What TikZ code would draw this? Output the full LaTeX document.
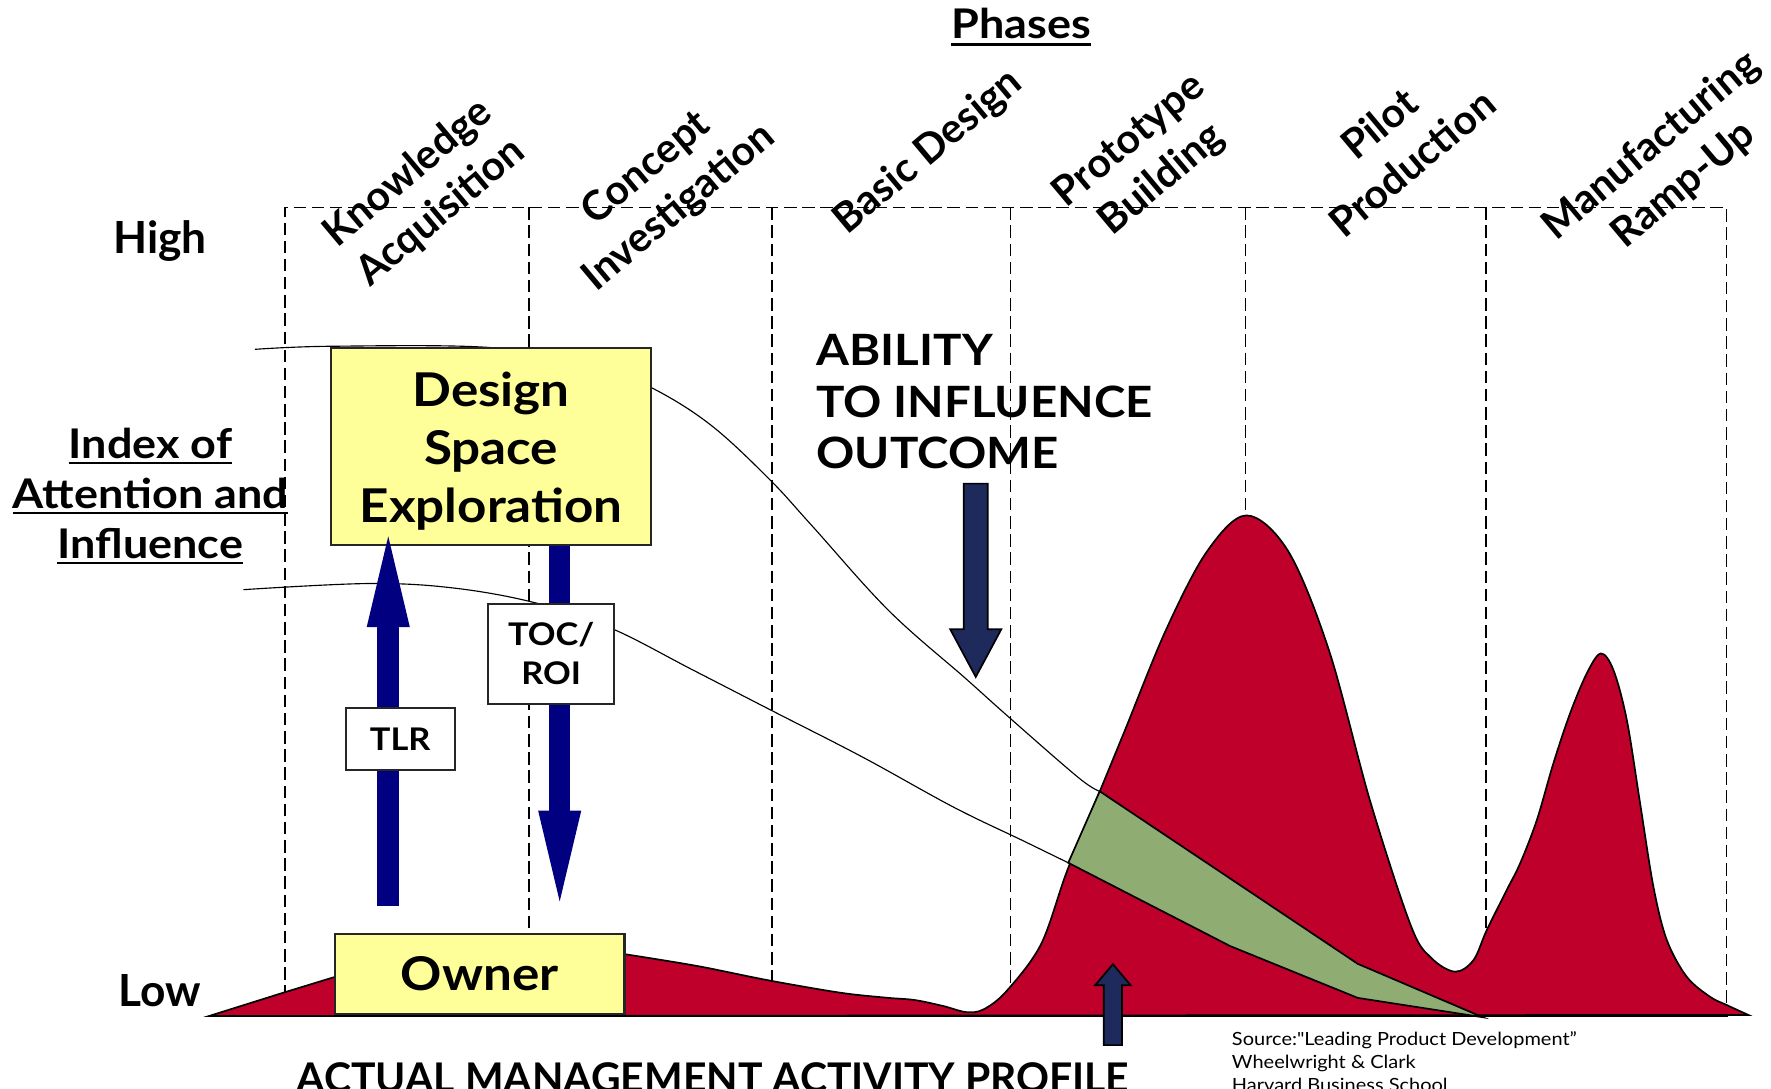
\documentclass[tikz,border=0pt]{standalone}
\usepackage{fontspec}
\setmainfont{Lato}
\newfontfamily\widesans{Lato}[FakeStretch=1.1]
\usetikzlibrary{arrows.meta}

\definecolor{profilered}{RGB}{190,0,42}
\definecolor{overlapgreen}{RGB}{143,172,114}
\definecolor{boxyellow}{RGB}{255,255,153}
\definecolor{tlrnavy}{RGB}{0,0,128}
\definecolor{slate}{RGB}{31,42,92}

\begin{document}
\begin{tikzpicture}[x=1pt, y=-1pt,
    phaseline/.style={black, line width=1.3pt, dash pattern=on 11pt off 5pt},
    activity/.style={fill=profilered, draw=black, line width=1.5pt},
    overlap/.style={fill=overlapgreen, draw=black, line width=1.5pt},
    influence/.style={black, line width=1pt},
    bigbox/.style={draw=black!85, line width=2pt, fill=boxyellow, inner sep=0pt},
    boxtext/.style={align=center, inner sep=0pt, font=\widesans\bfseries\fontsize{41}{51.4}\selectfont},
    tagbox/.style={draw=black!85, line width=1.8pt, fill=white, align=center, inner sep=0pt,
        font=\widesans\bfseries\fontsize{27.5}{34.3}\selectfont},
    navyarrow/.style={tlrnavy, line width=19pt,
        -{Triangle[length=80pt, width=38pt, line width=0pt]}},
    slatearrow/.style={fill=slate, draw=black, line width=1.5pt},
    phase/.style={rotate=40, align=center, font=\bfseries\fontsize{36}{45}\selectfont},
    heading/.style={inner sep=0pt, anchor=base, font=\widesans\bfseries\fontsize{36}{44}\selectfont},
    uline/.style={line width=2.2pt}
]
\useasboundingbox (0,0) rectangle (1560,959);

% phase columns
\draw[phaseline] (251,895) -- (251,182.6) -- (1521,182.6) -- (1521,895);
\foreach \x in {466,680,890,1097,1309}
    \draw[phaseline] (\x,182.6) -- (\x,895);

% actual management activity profile
\filldraw[activity] (184,895) -- (249.6,874.4) -- (295,860.5) -- (550.4,840.5)
    -- plot[smooth, tension=0.55] coordinates {(550.4,840.5) (613.6,850.8) (676.8,863.5)
    (740,874.4) (780.5,878.8) (805.8,880.9) (831,886.2) (851,891.5) (866.4,889.1)
    (886.7,872.9) (917,831.7) (940,767) (969,696.5) (991,643) (1027,555) (1063,486)
    (1098,454) (1135,486) (1171,574) (1207,706) (1243,816) (1261,844) (1281.7,855.9)
    (1297.9,845.7) (1309.6,819.3) (1327.2,784) (1339,760.5) (1353.7,722.4) (1368.3,672.4)
    (1383,628.4) (1397.7,593.2) (1410,575.6) (1421.2,590.2) (1433,634.3) (1444.7,707.7)
    (1456.4,781) (1468.2,828) (1485.8,860.4) (1506.3,878) (1521,885.3) (1540,894)}
    -- cycle;
\filldraw[overlap] (968.7,697) -- (941,760) -- (1083.7,833.4) -- (1196,879)
    -- (1306,896) -- (1196,849) -- cycle;
\draw[line width=1.8pt] (184,895) -- (1522,895);

% ability to influence / index curves
\draw[influence] plot[smooth, tension=0.6] coordinates {(224.6,307.7) (292,305) (430,306)
    (520,320) (573.5,341.3) (625.6,374) (677.3,421.7) (715.5,463.4) (782.9,537.9)
    (850.3,597.4) (889,632) (950,685) (968.7,697)};
\draw[influence] plot[smooth, tension=0.6] coordinates {(214.4,519.4) (324.5,514)
    (400,518) (472.8,531.3) (538.4,553.4) (610,590) (680,626) (760,667) (840,711)
    (900,740) (941,760)};

% boxes and arrows
\node[bigbox, minimum width=282, minimum height=174] (dse) at (432.6,393.3) {};
\node[boxtext] (dsetext) at ([yshift=-4pt]dse.center) {Design\\Space\\Exploration};
\node[bigbox, minimum width=255, minimum height=70] (owner) at (422.7,857.9) {};
\node[boxtext] (ownertext) at (owner.center) {Owner};

\coordinate (tlrfoot) at (342,797.8);
\coordinate (tlrtip) at (342,472.4);
\coordinate (toctip) at (493,794);
\draw[navyarrow] (tlrfoot) -- (tlrtip);
\draw[navyarrow] (dse.south -| toctip) -- (toctip);

\node[tagbox, minimum width=96, minimum height=54.5] (tlr) at (352.5,651) {TLR};
\node[tagbox, minimum width=110.5, minimum height=88.5] (toc) at (485.5,576) {TOC/\\ROI};

\node[align=left, inner sep=0pt, anchor=west,
    font=\widesans\bfseries\fontsize{38}{45.4}\selectfont] (ability) at (719,354)
    {ABILITY\\TO INFLUENCE\\OUTCOME};
\filldraw[slatearrow] (849,426) -- (870,426) -- (870,554.3) -- (882,554.3)
    -- (859.5,596.3) -- (837,554.3) -- (849,554.3) -- cycle;
\filldraw[slatearrow] (972.3,920.6) -- (972.3,867.8) -- (964.7,867.8) -- (980.3,849.3)
    -- (995.9,867.8) -- (988.3,867.8) -- (988.3,920.6) -- cycle;

% phases
\node[heading] (phases) at (899.5,34) {Phases};
\draw[uline] ([yshift=-5pt]phases.base west) -- ([yshift=-5pt]phases.base east);
\node[phase] (knowledge) at (374,170) {Knowledge\\Acquisition};
\node[phase] (concept) at (584,166) {Concept\\Investigation};
\node[phase] (basic) at (818,134) {Basic Design};
\node[phase] (prototype) at (1009.5,141.5) {Prototype\\Building};
\node[phase] (pilot) at (1229,126) {Pilot\\Production};
\node[phase] (ramp) at (1469,146) {Manufacturing\\Ramp-Up};

% axis labels
\node[heading, font=\bfseries\fontsize{39}{44}\selectfont] (high) at (141,223) {High};
\node[heading, font=\bfseries\fontsize{39}{44}\selectfont] (low) at (141,887) {Low};
\foreach \t/\y [count=\i] in {Index of/403.8, Attention and/447.8, Influence/491.8}{
    \node[heading] (index\i) at (132.5,\y) {\t};
    \draw[uline] ([yshift=-4pt]index\i.base west) -- ([yshift=-4pt]index\i.base east);
}
\node[heading, font=\bfseries\fontsize{36}{44}\selectfont] (actual) at (628,962)
    {ACTUAL MANAGEMENT ACTIVITY PROFILE};
\node[align=left, inner sep=0pt, anchor=north west, font=\widesans\fontsize{16}{20.4}\selectfont]
    (source) at (1085,908.3)
    {Source:"Leading Product Development”\\Wheelwright \& Clark\\Harvard Business School};
\end{tikzpicture}
\end{document}
